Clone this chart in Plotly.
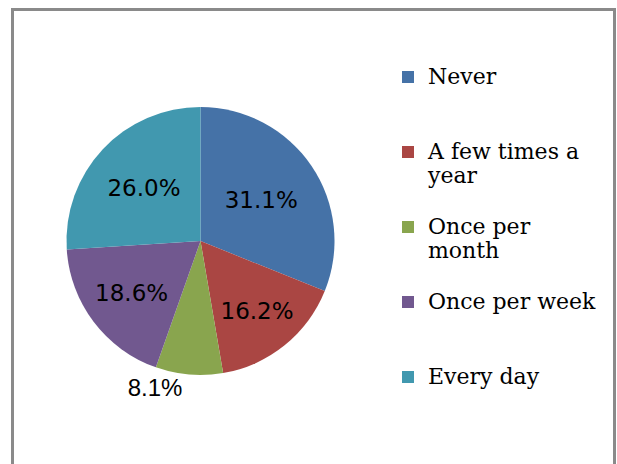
import textwrap
import plotly.graph_objects as go

# ---- data ----
categories = ["Never", "A few times a year", "Once per month", "Once per week", "Every day"]
values = [31.1, 16.2, 8.1, 18.6, 26.0]
colors = ["#4572A7", "#AA4643", "#89A54E", "#71588F", "#4198AF"]
label_positions = ["inside", "inside", "outside", "inside", "inside"]

W, H = 617, 464
LEG_FONT = 22
LINE_H = 24  # legend line height -> equal spacing of entries


def legend_label(name, width=13, nlines=3):
    lines = textwrap.wrap(name, width)
    lines += ["\u00a0"] * (nlines - len(lines))
    return "<br>".join(f"<span style='font-size:{LEG_FONT}px'>{l}</span>" for l in lines)


legend_labels = [legend_label(c) for c in categories]

# pie centre / radius in pixels
cx, cy, r = 200.5, 241, 134

fig = go.Figure(
    go.Pie(
        labels=legend_labels,
        values=values,
        sort=False,
        direction="clockwise",
        rotation=0,
        marker=dict(colors=colors, line=dict(width=0)),
        texttemplate="%{percent:.1%}",
        textposition=label_positions,
        insidetextorientation="horizontal",
        insidetextfont=dict(family="DejaVu Sans", size=23, color="black"),
        outsidetextfont=dict(family="Liberation Sans", size=24, color="black"),
        domain=dict(
            x=[(cx - r) / W, (cx + r) / W],
            y=[(H - cy - r) / H, (H - cy + r) / H],
        ),
        hoverinfo="skip",
    )
)

fig.update_layout(
    width=W,
    height=H,
    margin=dict(l=0, r=0, t=0, b=0),
    paper_bgcolor="white",
    plot_bgcolor="white",
    showlegend=True,
    legend=dict(
        x=388 / W,
        y=1 - 58.5 / H,
        xanchor="left",
        yanchor="top",
        valign="top",
        font=dict(family="DejaVu Serif", size=LINE_H / 1.3, color="black"),
        bgcolor="rgba(0,0,0,0)",
        borderwidth=0,
    ),
    shapes=[
        dict(
            type="rect", xref="paper", yref="paper",
            x0=12.5 / W, x1=614.5 / W, y0=-0.05, y1=1 - 9.5 / H,
            line=dict(color="#8a8a8a", width=3), fillcolor="rgba(0,0,0,0)",
        )
    ],
)

fig.write_html(
    "out.html",
    config={"displayModeBar": False},
    post_script="document.body.style.margin='0';document.body.style.overflow='hidden';",
)
